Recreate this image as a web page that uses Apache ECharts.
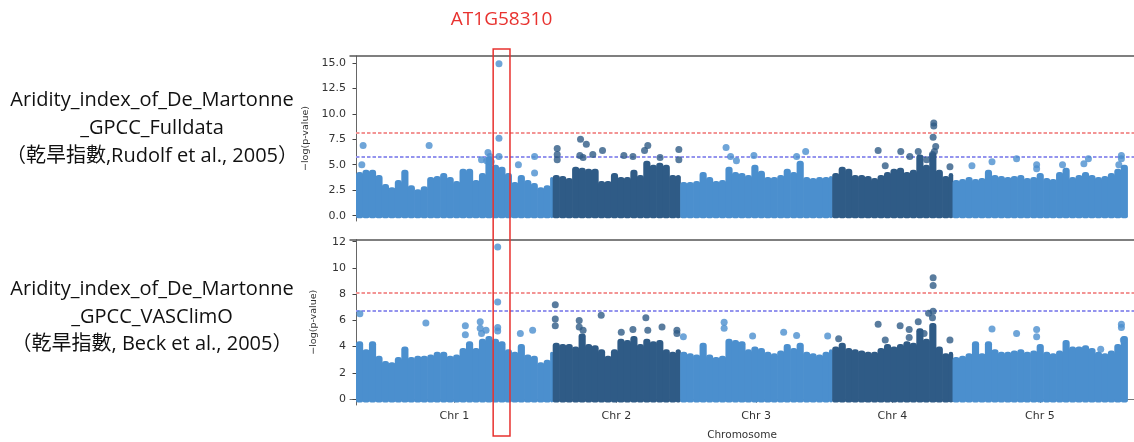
<!DOCTYPE html>
<html>
<head>
<meta charset="utf-8">
<script src="https://cdn.jsdelivr.net/npm/echarts@6/dist/echarts.min.js"></script>
<style>
html,body{margin:0;padding:0;background:#fff;}
#c{width:1134px;height:442px;}
</style>
</head>
<body>
<div id="c"></div>
<script>
// ---------------- data ----------------
const chromosomes = ['Chr 1', 'Chr 2', 'Chr 3', 'Chr 4', 'Chr 5'];
const chrLengthsMb = [30.4, 19.7, 23.5, 18.6, 27.0];
const binSizeMb = 1; // envelope of the dense SNP cloud, one value per Mb

const fullTicks = [0, 2.5, 5, 7.5, 10, 12.5, 15];
const vasTicks = [0, 2, 4, 6, 8, 10, 12];

// Panel 1: GPCC_Fulldata, top of dense point cloud per Mb
const fullChr1 = [4.3,4.5,4.5,4.0,3.1,2.8,3.5,4.5,3.0,2.6,2.9,3.8,3.9,4.2,3.8,3.4,4.6,4.6,3.5,4.2,5.8,5.0,4.8,4.2,3.3,4.0,3.5,3.2,2.8,3.0,3.8];
const fullChr2 = [4.0,3.9,3.7,4.8,4.7,4.6,4.6,3.4,3.4,4.2,3.8,3.8,4.5,4.0,5.4,5.0,5.2,5.0,4.0,4.0];
const fullChr3 = [3.3,3.3,3.4,4.3,3.8,3.4,3.5,4.8,4.3,4.2,4.0,5.0,4.4,3.8,3.8,4.0,4.6,4.3,5.4,3.8,3.7,3.8,3.8,3.9];
const fullChr4 = [4.2,4.8,4.6,4.0,4.0,3.9,3.7,4.0,4.3,4.6,4.7,4.3,4.5,6.0,5.0,6.2,4.5,3.9,4.2];
const fullChr5 = [3.5,3.6,3.8,3.6,3.7,4.5,4.0,3.9,3.8,3.9,4.0,3.7,3.8,4.2,3.7,3.6,4.3,4.7,3.8,4.0,4.3,4.0,3.8,3.9,4.2,4.6,5.0];
// isolated points above the cloud: [chromosome index, position in chromosome (Mb), -log(p)]
const fullPeaks = [
  [0,0.9,5.0],[0,1.1,6.9],[0,11.3,6.9],[0,19.4,5.5],[0,20.2,5.4],[0,20.4,6.2],[0,20.7,5.8],[0,20.9,5.3],
  [0,22.1,14.9],[0,22.1,7.6],[0,22.1,5.8],[0,25.1,5.0],[0,27.6,5.8],[0,27.6,4.2],
  [1,0.7,6.6],[1,0.7,6.0],[1,0.7,5.5],[1,4.3,7.5],[1,5.2,7.0],[1,4.2,5.9],[1,4.7,5.7],[1,6.2,6.0],
  [1,7.7,6.4],[1,11.0,5.9],[1,12.4,5.8],[1,14.2,6.4],[1,14.7,6.9],[1,16.6,5.7],[1,19.5,6.5],[1,19.5,5.5],
  [2,7.1,6.7],[2,7.8,5.8],[2,8.7,5.4],[2,11.4,5.9],[2,18.0,5.8],[2,19.4,6.3],
  [3,7.1,6.4],[3,8.2,4.9],[3,10.6,6.3],[3,12.0,5.8],[3,13.3,6.3],[3,14.6,5.5],[3,15.7,9.1],[3,15.7,8.8],
  [3,15.6,7.7],[3,16.0,6.8],[3,15.8,6.3],[3,15.5,6.0],[3,18.2,4.8],
  [4,3.0,4.9],[4,6.1,5.3],[4,9.9,5.6],[4,13.0,5.0],[4,13.0,4.6],[4,17.0,5.0],[4,20.3,5.1],[4,21.0,5.6],
  [4,26.1,5.9],[4,26.1,5.6],[4,25.7,5.0]
];

// Panel 2: GPCC_VASClimO
const vasChr1 = [4.4,3.8,4.4,3.3,2.9,2.8,3.2,4.0,3.2,3.3,3.3,3.4,3.6,3.6,3.3,3.4,3.9,4.4,3.9,4.6,4.8,4.6,4.4,3.8,3.6,4.2,3.4,3.3,2.8,3.0,3.6];
const vasChr2 = [4.3,4.2,4.2,4.0,5.0,4.2,4.1,3.8,3.3,3.8,4.6,4.5,4.8,4.2,4.6,4.4,4.5,3.8,3.6,3.8];
const vasChr3 = [3.6,3.5,3.4,4.3,3.4,3.2,3.3,4.6,4.5,4.4,3.8,4.0,3.9,3.6,3.5,3.7,4.2,3.9,4.3,3.6,3.5,3.4,3.6,3.8];
const vasChr4 = [4.0,4.3,3.9,3.8,3.7,3.6,3.6,3.9,4.2,4.0,4.2,4.4,4.3,5.4,4.6,5.8,4.0,3.5,3.6];
const vasChr5 = [3.2,3.3,3.5,4.4,3.5,4.4,3.8,3.6,3.6,3.7,3.8,3.6,3.7,4.2,3.6,3.5,3.7,4.5,4.0,4.0,4.1,3.9,3.6,3.5,3.7,4.2,4.8];
const vasPeaks = [
  [0,0.6,6.5],[0,10.8,5.8],[0,16.9,5.6],[0,16.9,4.9],[0,19.2,5.9],[0,19.2,5.4],[0,19.4,5.0],[0,20.1,5.25],
  [0,21.9,11.6],[0,21.9,7.4],[0,21.9,5.45],[0,21.9,5.2],[0,25.4,5.0],[0,27.3,5.25],
  [1,0.4,7.2],[1,0.4,6.1],[1,0.4,5.6],[1,4.1,6.0],[1,4.1,5.5],[1,4.7,5.25],[1,7.5,6.4],[1,10.6,5.1],
  [1,12.4,5.3],[1,14.4,6.2],[1,14.7,5.25],[1,16.9,5.5],[1,19.2,5.25],[1,19.2,5.0],
  [2,0.5,4.75],[2,6.8,5.85],[2,6.8,5.4],[2,11.2,4.8],[2,16.0,5.1],[2,18.0,4.85],[2,22.8,4.8],
  [3,1.0,4.6],[3,7.1,5.7],[3,8.2,4.5],[3,10.5,5.6],[3,11.9,5.3],[3,11.9,4.7],[3,13.3,5.9],[3,14.2,5.0],
  [3,15.6,9.25],[3,15.6,8.65],[3,14.9,6.55],[3,15.6,6.7],[3,15.5,6.2],[3,18.2,4.5],
  [4,6.1,5.35],[4,9.9,5.0],[4,13.0,5.3],[4,13.0,4.75],[4,22.9,3.8],[4,26.1,5.7],[4,26.1,5.45],[4,26.4,4.5]
];

// thresholds (red: significance, blue: suggestive)
const fullThresholds = [8.1, 5.75];
const vasThresholds = [8.1, 6.7];

// annotation
const geneName = 'AT1G58310';
const geneBoxMb = [21.2, 23.8]; // chromosome 1 window highlighted
const traitFull = ['Aridity_index_of_De_Martonne', '_GPCC_Fulldata', '（乾旱指數,Rudolf et al., 2005）'];
const traitVas = ['Aridity_index_of_De_Martonne', '_GPCC_VASClimO', '（乾旱指數, Beck et al., 2005）'];

// ---------------- build ----------------
const colors = ['#4b8fce', '#2f5b86'];
const thrColors = ['#f39494', '#9494ee'];
const offsets = [];
chrLengthsMb.reduce((acc, l, i) => { offsets[i] = acc; return acc + l; }, 0);
const midpoints = chrLengthsMb.map((l, i) => offsets[i] + l / 2);

const gridL = 350, gridW = 784;
const pxPerMb = 6.47;
const xMin = -6 / pxPerMb, xMax = xMin + gridW / pxPerMb;

function envData(arrs) {
  const out = [];
  arrs.forEach((arr, c) => {
    arr.forEach((h, i) => {
      const s = offsets[c] + i * binSizeMb;
      const e = Math.min(offsets[c] + chrLengthsMb[c], s + binSizeMb);
      out.push([s, e, h, c]);
    });
  });
  return out;
}
function peakData(arr) {
  return arr.map(p => [offsets[p[0]] + p[1], p[2], p[0]]);
}
function xIdx(idx) { return idx === 0 ? 0 : 2; }

function envSeries(idx, data) {
  return {
    type: 'custom', xAxisIndex: xIdx(idx), yAxisIndex: idx, clip: true,
    data: data, encode: { x: [0, 1], y: 2 }, silent: true, z: 2,
    renderItem: function (params, api) {
      const s = api.value(0), e = api.value(1), h = api.value(2), c = api.value(3);
      const p0 = api.coord([s, h]);
      const p1 = api.coord([e, -0.25]);
      return {
        type: 'rect',
        shape: { x: p0[0], y: p0[1], width: p1[0] - p0[0] + 0.7, height: p1[1] - p0[1], r: [3, 3, 2, 2] },
        style: { fill: colors[c % 2] }
      };
    }
  };
}
function peakSeries(idx, data) {
  return {
    type: 'scatter', xAxisIndex: xIdx(idx), yAxisIndex: idx, data: data, symbolSize: 7, z: 3,
    itemStyle: { color: p => colors[p.value[2] % 2] }
  };
}
// threshold lines drawn as a row of short dashes along the axis scale
function thrSeries(idx, values) {
  return {
    type: 'custom', xAxisIndex: xIdx(idx), yAxisIndex: idx, clip: true, silent: true, z: 1,
    data: values.map((v, i) => [xMin, xMax, v, i]),
    encode: { x: [0, 1], y: 2 },
    renderItem: function (params, api) {
      const a = api.coord([api.value(0), api.value(2)]);
      const b = api.coord([api.value(1), api.value(2)]);
      const y = Math.round(a[1]) - 1;
      const col = thrColors[api.value(3)];
      const kids = [];
      for (let x = a[0] + 6; x < b[0]; x += 5.5) {
        kids.push({ type: 'rect', shape: { x: x, y: y, width: 3.5, height: 2 }, style: { fill: col } });
      }
      return { type: 'group', children: kids };
    }
  };
}

const axisTxt = { color: '#333', fontSize: 11, fontFamily: 'DejaVu Sans' };
function yAxisDef(idx, min, max, ticks, fmt) {
  return {
    type: 'value', gridIndex: idx, min: min, max: max,
    name: '\u2212log(p-value)', nameLocation: 'middle', nameGap: 31,
    nameTextStyle: { color: '#333', fontSize: 9.5, fontFamily: 'DejaVu Sans' },
    axisLine: { show: true, lineStyle: { color: '#666', width: 1 } },
    axisTick: { show: true, length: 3.5, lineStyle: { color: '#444' }, customValues: ticks },
    axisLabel: Object.assign({ margin: 4, formatter: fmt, customValues: ticks }, axisTxt),
    splitLine: { show: false }
  };
}

const chart = echarts.init(document.getElementById('c'), null, { renderer: 'canvas' });
chart.setOption({
  backgroundColor: '#fff',
  animation: false,
  grid: [
    { left: gridL, width: gridW, top: 56, height: 165 },
    { left: gridL, width: gridW, top: 239.5, height: 168 }
  ],
  xAxis: [
    { type: 'value', gridIndex: 0, min: xMin, max: xMax, show: false },
    { type: 'value', gridIndex: 0, min: xMin, max: xMax, position: 'top',
      axisLine: { show: true, lineStyle: { color: '#555', width: 1.5 } },
      axisTick: { show: false }, axisLabel: { show: false }, splitLine: { show: false } },
    { type: 'value', gridIndex: 1, min: xMin, max: xMax, position: 'bottom',
      name: 'Chromosome', nameLocation: 'middle', nameGap: 25,
      nameTextStyle: { color: '#333', fontSize: 10.5, fontFamily: 'DejaVu Sans' },
      axisLine: { show: true, lineStyle: { color: '#777', width: 1 } },
      axisTick: { show: true, length: 3.5, lineStyle: { color: '#444' }, customValues: midpoints },
      axisLabel: Object.assign({ margin: 6, customValues: midpoints,
        formatter: v => { const i = midpoints.findIndex(m => Math.abs(m - v) < 0.01); return i >= 0 ? chromosomes[i] : ''; } }, axisTxt),
      splitLine: { show: false } },
    { type: 'value', gridIndex: 1, min: xMin, max: xMax, position: 'top',
      axisLine: { show: true, lineStyle: { color: '#555', width: 1.5 } },
      axisTick: { show: false }, axisLabel: { show: false }, splitLine: { show: false } }
  ],
  yAxis: [
    yAxisDef(0, -0.52, 15.67, fullTicks, v => v.toFixed(1)),
    yAxisDef(1, -0.45, 12.165, vasTicks, v => String(v))
  ],
  series: [
    thrSeries(0, fullThresholds),
    envSeries(0, envData([fullChr1, fullChr2, fullChr3, fullChr4, fullChr5])),
    peakSeries(0, peakData(fullPeaks)),
    thrSeries(1, vasThresholds),
    envSeries(1, envData([vasChr1, vasChr2, vasChr3, vasChr4, vasChr5])),
    peakSeries(1, peakData(vasPeaks))
  ]
});

// annotations positioned from axis scale
const bx0 = chart.convertToPixel({ xAxisIndex: 0 }, offsets[0] + geneBoxMb[0]);
const bx1 = chart.convertToPixel({ xAxisIndex: 0 }, offsets[0] + geneBoxMb[1]);
const labelFont = '"Open Sans", "Noto Sans CJK TC", sans-serif';
function traitText(lines, ys) {
  return lines.map((t, i) => ({
    type: 'text', x: 152, y: ys[i],
    style: { text: t, textAlign: 'center', textVerticalAlign: 'middle',
      fill: '#111', font: '20px ' + labelFont }
  }));
}
chart.setOption({
  graphic: [
    { type: 'rect', shape: { x: bx0, y: 49, width: bx1 - bx0, height: 387 },
      style: { fill: 'none', stroke: '#e8322f', lineWidth: 1.5 }, z: 100 },
    { type: 'text', x: (bx0 + bx1) / 2, y: 20,
      style: { text: geneName, textAlign: 'center', textVerticalAlign: 'middle', fill: '#e8322f',
        font: '19px ' + labelFont }, z: 100 }
  ].concat(traitText(traitFull, [100, 128, 156])).concat(traitText(traitVas, [289, 317, 344]))
});
</script>
</body>
</html>
